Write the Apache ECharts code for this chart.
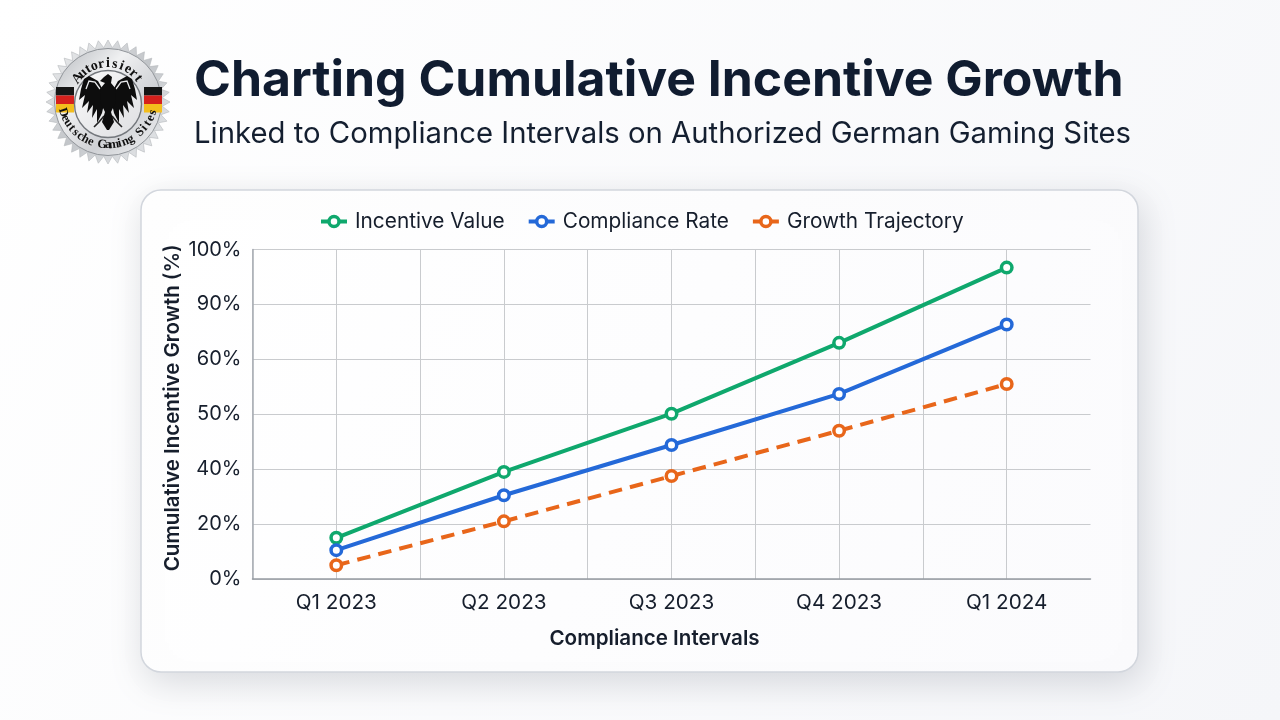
<!DOCTYPE html>
<html>
<head>
<meta charset="utf-8">
<style>html,body{margin:0;padding:0;background:#fff}#chart{width:1280px;height:720px}</style>
<script src="https://cdn.jsdelivr.net/npm/echarts@6/dist/echarts.min.js"></script>
</head>
<body>
<div id="chart"></div>
<script>
// Quarters on the horizontal axis
const categories = ['Q1 2023', 'Q2 2023', 'Q3 2023', 'Q4 2023', 'Q1 2024'];
// Tick labels of the vertical axis: evenly spaced, but not evenly valued
const percentTicks = [0, 20, 40, 50, 60, 90, 100];
// Series, in percent as printed on the vertical axis
const incentiveValue = [15, 39, 50.1, 69, 96.7];
const complianceRate = [10.5, 30.5, 44.4, 53.7, 79];
const growthTrajectory = [5, 21, 37.5, 47, 55.5];

const INK = '#161e2c';
const FONT = 'Inter';

// The axis runs over tick slots, so each percentage is placed between its two neighbouring ticks
function toSlot(p) {
  for (let i = 0; i < percentTicks.length - 1; i++) {
    if (p <= percentTicks[i + 1]) {
      return i + (p - percentTicks[i]) / (percentTicks[i + 1] - percentTicks[i]);
    }
  }
  return percentTicks.length - 1;
}

function lineSeries(name, values, color, dashed) {
  return {
    name, type: 'line', data: values.map(toSlot), xAxisIndex: 0, yAxisIndex: 0,
    symbol: 'circle', symbolSize: 10.5, showSymbol: true, smooth: false, animation: false,
    lineStyle: { color, width: 4, type: dashed ? [13.5, 8.2] : 'solid' },
    itemStyle: { color: '#ffffff', borderColor: color, borderWidth: 3.5 }
  };
}

// Silver seal with serrated edge, flag bands, eagle and curved lettering
function sealElements() {
  const cx = 108, cy = 102, els = [];
  const teeth = 40, pts = [];
  for (let i = 0; i < teeth * 2; i++) {
    const r = i % 2 ? 54.5 : 62, a = i * Math.PI / teeth;
    pts.push([cx + r * Math.cos(a), cy + r * Math.sin(a)]);
  }
  const silver = {
    type: 'linear', x: 0, y: 0, x2: 1, y2: 1,
    colorStops: [{ offset: 0, color: '#f2f3f4' }, { offset: 0.5, color: '#c2c5c9' }, { offset: 1, color: '#eceef0' }]
  };
  els.push({ type: 'polygon', shape: { points: pts }, style: { fill: silver, stroke: '#b4b7bb', lineWidth: 0.6 } });
  els.push({
    type: 'circle', shape: { cx, cy, r: 53.5 },
    style: {
      fill: { type: 'linear', x: 0, y: 0, x2: 1, y2: 1,
        colorStops: [{ offset: 0, color: '#b3b6bb' }, { offset: 0.35, color: '#f0f1f2' }, { offset: 0.65, color: '#cfd1d5' }, { offset: 1, color: '#f2f3f4' }] },
      stroke: '#909499', lineWidth: 1
    }
  });
  // Flag bands on both sides of the ring
  [56, 144].forEach(x => {
    [['#151515', 87], ['#d5201c', 95.5], ['#f3bd1c', 104]].forEach(([c, y]) => {
      els.push({ type: 'rect', shape: { x, y, width: 18, height: 8.5 }, style: { fill: c } });
    });
  });
  els.push({
    type: 'circle', shape: { cx, cy: cy + 2, r: 33.5 },
    style: {
      fill: { type: 'linear', x: 0, y: 0, x2: 1, y2: 1,
        colorStops: [{ offset: 0, color: '#fafafa' }, { offset: 1, color: '#dddee1' }] },
      stroke: '#73777c', lineWidth: 1.4
    }
  });
  // Eagle: a serrated wing mirrored around the body, with a light slit under its upper arc
  const wing = [[-5, -12], [-10, -21], [-19, -26], [-24, -23], [-27, -13], [-29, -2], [-23, -7], [-26, 6],
    [-19, -1], [-21, 11], [-15, 3], [-16, 16], [-11, 7], [-11, 21], [-6, 11], [-4, 2]];
  const slit = [[-8, -13], [-13, -20], [-19, -21], [-22, -13]];
  [1, -1].forEach(s => {
    els.push({
      type: 'polygon', shape: { points: wing.map(p => [cx + s * p[0], cy + p[1]]) },
      style: { fill: '#0d0d0d' }
    });
    els.push({
      type: 'polyline', shape: { points: slit.map(p => [cx + s * p[0], cy + p[1]]) },
      style: { stroke: '#e9eaec', lineWidth: 1.3, fill: 'none' }
    });
    els.push({
      type: 'polyline',
      shape: { points: [[cx + s * 4, cy + 14], [cx + s * 9, cy + 20], [cx + s * 14, cy + 25]] },
      style: { stroke: '#222', lineWidth: 1.6, fill: 'none' }
    });
  });
  els.push({
    type: 'polygon',
    shape: { points: [[104, 77], [108, 74], [112, 77], [111, 83], [116, 89], [115, 104], [111, 112], [114, 122], [109, 130], [107, 130], [102, 122], [105, 112], [101, 104], [100, 89], [105, 83], [100, 81]] },
    style: { fill: '#0d0d0d' }
  });
  // Lettering set character by character on its arc
  const arcText = (text, ay, radius, centerDeg, stepDeg, lower, size) => {
    [...text].forEach((ch, i) => {
      const off = (i - (text.length - 1) / 2) * stepDeg;
      const deg = lower ? centerDeg - off : centerDeg + off;
      const a = deg * Math.PI / 180;
      els.push({
        type: 'text', x: cx + radius * Math.cos(a), y: ay + radius * Math.sin(a),
        rotation: lower ? -(deg - 90) * Math.PI / 180 : -(deg + 90) * Math.PI / 180,
        style: { text: ch, fill: '#111', font: 'bold ' + size + 'px "Liberation Serif"', align: 'center', verticalAlign: 'middle' }
      });
    });
  };
  arcText('Autorisiert', 102, 38.5, -90, 10.4, false, 14);
  arcText('Deutsche Gaming Sites', 98, 47, 90, 7.2, true, 12.5);
  return els;
}

const chart = echarts.init(document.getElementById('chart'), null, { renderer: 'canvas' });
chart.setOption({
  animation: false,
  backgroundColor: {
    type: 'linear', x: 0, y: 0, x2: 1, y2: 1,
    colorStops: [{ offset: 0, color: '#ffffff' }, { offset: 1, color: '#f5f6f9' }]
  },
  textStyle: { fontFamily: FONT },
  title: [
    { text: 'Charting Cumulative Incentive Growth', left: 194, top: 56, padding: 0,
      textStyle: { fontFamily: FONT, fontSize: 49.9, fontWeight: 700, color: '#101c30' } },
    { text: 'Linked to Compliance Intervals on Authorized German Gaming Sites', left: 194, top: 120, padding: 0,
      textStyle: { fontFamily: FONT, fontSize: 29.3, fontWeight: 400, color: '#141f30' } }
  ],
  graphic: [
    {
      type: 'rect', z: -10,
      shape: { x: 141, y: 190, width: 997, height: 482, r: 20 },
      style: {
        fill: { type: 'linear', x: 0, y: 0, x2: 1, y2: 1,
          colorStops: [{ offset: 0, color: '#ffffff' }, { offset: 1, color: '#fbfbfd' }] },
        stroke: '#d2d6dd', lineWidth: 1.5,
        shadowBlur: 34, shadowColor: 'rgba(40,50,70,0.17)', shadowOffsetX: 4, shadowOffsetY: 10
      }
    },
    ...sealElements()
  ],
  legend: {
    top: 211, left: 319, padding: 0, itemWidth: 26, itemHeight: 12.5, itemGap: 22,
    data: ['Incentive Value', 'Compliance Rate', 'Growth Trajectory'],
    lineStyle: { type: 'solid', width: 4 },
    itemStyle: { borderWidth: 3.5 },
    textStyle: { fontFamily: FONT, fontSize: 20.8, color: INK, padding: [0, 0, 0, 3] }
  },
  grid: { left: 252.5, right: 189.5, top: 249.5, bottom: 141 },
  xAxis: [
    {
      type: 'category', data: categories, boundaryGap: true,
      name: 'Compliance Intervals', nameLocation: 'middle', nameGap: 49,
      nameTextStyle: { fontFamily: FONT, fontSize: 20.6, fontWeight: 600, color: INK, padding: [0, 34, 0, 0] },
      axisLine: { lineStyle: { color: '#979ca3', width: 1.5 } },
      axisTick: { show: false },
      axisLabel: { fontFamily: FONT, fontSize: 20.7, color: INK, margin: 13 },
      splitLine: { show: false }
    },
    {
      // Carries the vertical rules only: one at each quarter and one halfway between
      type: 'value', min: 0, max: 10, interval: 1, position: 'bottom',
      axisLine: { show: false }, axisTick: { show: false }, axisLabel: { show: false },
      splitLine: { show: true, showMaxLine: false, lineStyle: { color: '#c9cbce', width: 1 } }
    }
  ],
  yAxis: {
    type: 'value', min: 0, max: percentTicks.length - 1, interval: 1,
    name: 'Cumulative Incentive Growth (%)', nameLocation: 'middle', nameGap: 69, nameRotate: 90, nameMoveOverlap: false,
    nameTextStyle: { fontFamily: FONT, fontSize: 20.5, fontWeight: 600, color: INK, padding: [0, 0, 0, 13] },
    axisLine: { show: true, lineStyle: { color: '#a6abb2', width: 1.5 } },
    axisTick: { show: false },
    axisLabel: { fontFamily: FONT, fontSize: 20, color: INK, margin: 11, formatter: v => percentTicks[v] + '%' },
    splitLine: { show: true, lineStyle: { color: '#c9cbce', width: 1 } }
  },
  series: [
    lineSeries('Incentive Value', incentiveValue, '#0fa86d', false),
    lineSeries('Compliance Rate', complianceRate, '#2469d8', false),
    lineSeries('Growth Trajectory', growthTrajectory, '#e8661a', true)
  ]
});
</script>
</body>
</html>
